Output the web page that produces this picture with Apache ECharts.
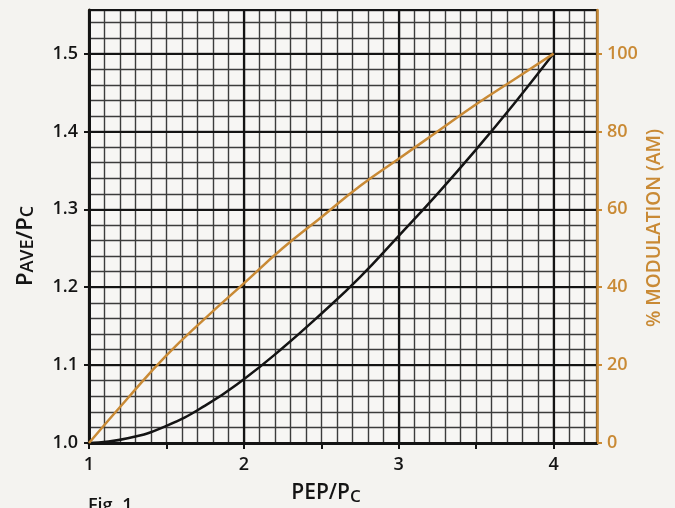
<!DOCTYPE html>
<html>
<head>
<meta charset="utf-8">
<script src="https://cdn.jsdelivr.net/npm/echarts@6/dist/echarts.min.js"></script>
<style>
  html, body { margin: 0; padding: 0; background: #f4f3f0; }
  #chart { width: 675px; height: 508px; }
</style>
</head>
<body>
<div id="chart"></div>
<script>
// PEP/Pc values
const pepRatio = [1, 1.25, 1.5, 1.75, 2, 2.25, 2.5, 2.75, 3, 3.25, 3.5, 3.75, 4];
// black curve: Pave/Pc
const paveRatio = [1.0, 1.006, 1.022, 1.048, 1.082, 1.122, 1.166, 1.213, 1.266, 1.32, 1.377, 1.437, 1.5];
// orange curve: % modulation (AM)
const modulation = [0, 11.5, 22.5, 32, 41, 50, 58, 66, 73, 80, 87, 93.5, 100];

const xTickLabels = [1, 2, 3, 4];
const leftTickLabels = ['1.0', '1.1', '1.2', '1.3', '1.4', '1.5'];
const rightTickLabels = [0, 20, 40, 60, 80, 100];

const black = '#141414';
const orange = '#c98a35';
const font = 'Open Sans';

const chart = echarts.init(document.getElementById('chart'));

const gridBox = { left: 89, right: 78, top: 10, bottom: 65 };

// helper for hidden axes that only draw grid lines
const gridOnly = (min, max, interval, color, width) => ({
  type: 'value', min, max, interval,
  axisLine: { show: false }, axisTick: { show: false }, axisLabel: { show: false },
  splitLine: { show: true, lineStyle: { color, width } }
});

const option = {
  backgroundColor: '#f4f3f0',
  animation: false,
  grid: {
    ...gridBox, show: true, backgroundColor: '#f7f6f4',
    borderColor: orange, borderWidth: 2
  },
  xAxis: [
    {
      type: 'value', min: 1, max: 4.28, interval: 0.5, position: 'bottom',
      axisLine: { lineStyle: { color: black, width: 3 } },
      axisTick: { show: true, length: 6, lineStyle: { color: black, width: 2 } },
      axisLabel: {
        color: black, fontFamily: font, fontWeight: 600, fontSize: 18, margin: 13,
        showMaxLabel: false,
        formatter: v => xTickLabels.includes(v) ? String(v) : ''
      },
      splitLine: { show: false }, z: 5
    },
    gridOnly(1, 4.28, 0.1, '#3c3c3c', 1.4),
    gridOnly(1, 4.28, 1, black, 2.2)
  ],
  yAxis: [
    {
      type: 'value', min: 1, max: 1.556, interval: 0.1, position: 'left',
      axisLine: { show: true, lineStyle: { color: black, width: 3 } },
      axisTick: { show: true, length: 5, lineStyle: { color: black, width: 2 } },
      axisLabel: {
        color: black, fontFamily: font, fontWeight: 600, fontSize: 18, margin: 11,
        showMaxLabel: false,
        formatter: v => {
          const s = v.toFixed(1);
          return leftTickLabels.includes(s) && Math.abs(v - Number(s)) < 1e-6 ? s : '';
        }
      },
      splitLine: { show: true, lineStyle: { color: black, width: 2.2 } }, z: 5
    },
    {
      type: 'value', min: 0, max: 111.2, interval: 20, position: 'right',
      axisLine: { show: true, lineStyle: { color: orange, width: 2.5 } },
      axisTick: { show: true, length: 5, lineStyle: { color: orange, width: 2 } },
      axisLabel: {
        color: orange, fontFamily: font, fontWeight: 600, fontSize: 18, margin: 10,
        showMaxLabel: false,
        formatter: v => rightTickLabels.includes(v) ? String(v) : ''
      },
      splitLine: { show: false }, z: 5
    },
    gridOnly(1, 1.556, 0.02, '#3c3c3c', 1.4)
  ],
  graphic: [
    {
      type: 'text', x: 26, y: 246, rotation: Math.PI / 2, z: 10,
      style: {
        text: '{a|P}{b|AVE}{a|/P}{b|C}',
        align: 'center', verticalAlign: 'middle',
        rich: {
          a: { fontSize: 22, fontFamily: font, fontWeight: 600, fill: black },
          b: { fontSize: 18, fontFamily: font, fontWeight: 600, fill: black, verticalAlign: 'bottom' }
        }
      }
    },
    {
      type: 'text', x: 326, y: 493, z: 10,
      style: {
        text: '{a|PEP/P}{b|C}',
        align: 'center', verticalAlign: 'middle',
        rich: {
          a: { fontSize: 21, fontFamily: font, fontWeight: 600, fill: black, lineHeight: 24 },
          b: { fontSize: 17, fontFamily: font, fontWeight: 600, fill: black, padding: [9, 0, 0, 0] }
        }
      }
    },
    {
      type: 'text', x: 655, y: 228, rotation: Math.PI / 2, z: 10,
      style: {
        text: '% MODULATION (AM)', fill: orange,
        align: 'center', verticalAlign: 'middle',
        fontFamily: font, fontWeight: 600, fontSize: 19, letterSpacing: 0.5
      }
    },
    {
      type: 'text', left: 88, top: 497, z: 10,
      style: { text: 'Fig. 1', fill: black, fontFamily: font, fontWeight: 600, fontSize: 18 }
    }
  ],
  series: [
    {
      name: 'Pave/Pc', type: 'line', smooth: true, showSymbol: false,
      xAxisIndex: 0, yAxisIndex: 0, z: 6,
      lineStyle: { color: black, width: 2.5 },
      data: pepRatio.map((x, i) => [x, paveRatio[i]])
    },
    {
      name: '% modulation', type: 'line', smooth: true, showSymbol: false,
      xAxisIndex: 0, yAxisIndex: 1, z: 6,
      lineStyle: { color: orange, width: 2.5 },
      data: pepRatio.map((x, i) => [x, modulation[i]])
    }
  ]
};

chart.setOption(option);
</script>
</body>
</html>
